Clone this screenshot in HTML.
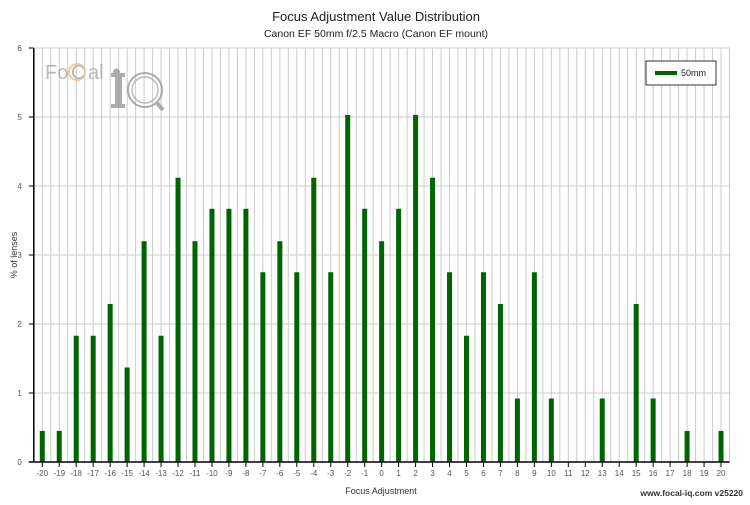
<!DOCTYPE html>
<html><head><meta charset="utf-8"><style>
body{margin:0;background:#fff;font-family:"Liberation Sans",sans-serif}
svg text{font-family:"Liberation Sans",sans-serif}
</style></head><body>
<svg width="750" height="500" viewBox="0 0 750 500" xmlns="http://www.w3.org/2000/svg">
<rect width="750" height="500" fill="#fff"/>
<text x="376" y="21" text-anchor="middle" font-size="13" fill="#222">Focus Adjustment Value Distribution</text>
<text x="376" y="37" text-anchor="middle" font-size="10.5" fill="#222">Canon EF 50mm f/2.5 Macro (Canon EF mount)</text>
<g id="grid"></g>
<g opacity="0.8">
<text x="45" y="79" font-size="20" fill="#aaa">Fo</text>
<circle cx="77" cy="72" r="8" fill="none" stroke="#f0c080" stroke-width="2"/>
<text x="71" y="79" font-size="20" fill="#aaa">C</text>
<text x="88" y="79" font-size="20" fill="#aaa">al</text>
<rect x="111" y="73" width="14" height="4" fill="#999"/>
<rect x="115" y="73" width="7" height="34" fill="#999"/>
<rect x="111" y="104" width="14" height="4" fill="#999"/>
<circle cx="116.5" cy="73" r="0" fill="#999"/>
<circle cx="116.5" cy="72" r="3.5" fill="#999"/>
<circle cx="145" cy="90" r="17" fill="none" stroke="#999" stroke-width="2"/>
<circle cx="145" cy="90" r="13" fill="none" stroke="#aaa" stroke-width="1.5"/>
<line x1="157" y1="103" x2="163" y2="110" stroke="#999" stroke-width="4"/>
</g>
<g id="bars"></g>
<g id="axes"></g>
<text x="17" y="255" text-anchor="middle" font-size="9" fill="#333" transform="rotate(-90 17 255)">% of lenses</text>
<text x="381" y="494" text-anchor="middle" font-size="9" fill="#333">Focus Adjustment</text>
<text x="743" y="496" text-anchor="end" font-size="8.5" font-weight="bold" fill="#333">www.focal-iq.com  v25220</text>
<g>
<rect x="646" y="61" width="70" height="24" fill="#fff" stroke="#333" stroke-width="1"/>
<rect x="655" y="71" width="22" height="4" fill="#006400"/>
<text x="681" y="76" font-size="9" fill="#222">50mm</text>
</g>
</svg>
<script>
const categories=[-20,-19,-18,-17,-16,-15,-14,-13,-12,-11,-10,-9,-8,-7,-6,-5,-4,-3,-2,-1,0,1,2,3,4,5,6,7,8,9,10,11,12,13,14,15,16,17,18,19,20];
const values=[0.45,0.45,1.83,1.83,2.29,1.37,3.2,1.83,4.12,3.2,3.67,3.67,3.67,2.75,3.2,2.75,4.12,2.75,5.03,3.67,3.2,3.67,5.03,4.12,2.75,1.83,2.75,2.29,0.92,2.75,0.92,0,0,0.92,0,2.29,0.92,0,0.45,0,0.45];
const yTicks=[0,1,2,3,4,5,6];
const NS='http://www.w3.org/2000/svg';
const X0=33.8,X1=729.5,Y0=462,Y1=48;
const x=v=>X0+(v+20.5)/41*(X1-X0);
const y=v=>Y0-v/6*(Y0-Y1);
function mk(t,a,p){const e=document.createElementNS(NS,t);for(const k in a)e.setAttribute(k,a[k]);p.appendChild(e);return e;}
const grid=document.getElementById('grid'),bars=document.getElementById('bars'),axes=document.getElementById('axes');
for(let v=-20.5;v<=20.51;v+=0.5){const l=mk('line',{x1:x(v),x2:x(v),y1:Y1,y2:Y0,stroke:'#ccc','stroke-width':1},grid);}
yTicks.forEach(t=>{const l=mk('line',{x1:X0,x2:X1,y1:y(t),y2:y(t),stroke:'#ccc','stroke-width':1},grid);
const tk=mk('line',{x1:X0-5,x2:X0,y1:y(t),y2:y(t),stroke:'#000'},axes);
const tx=mk('text',{x:X0-12,y:y(t)+3,'text-anchor':'end','font-size':8,fill:'#555'},axes);tx.textContent=t;});
categories.forEach((c,i)=>{const b=mk('rect',{x:x(c)-2.5,y:y(values[i]),width:5,height:Y0-y(values[i]),fill:'#006400'},bars);
const tk=mk('line',{x1:x(c),x2:x(c),y1:Y0,y2:Y0+5,stroke:'#000'},axes);
const tx=mk('text',{x:x(c),y:Y0+14,'text-anchor':'middle','font-size':8,fill:'#555'},axes);tx.textContent=c;});
const ax=mk('line',{x1:X0,x2:X0,y1:Y1,y2:Y0,stroke:'#000','stroke-width':1.5},axes);
const bx=mk('line',{x1:X0-5,x2:X1,y1:Y0,y2:Y0,stroke:'#000','stroke-width':1.5},axes);
</script>
</body></html>
